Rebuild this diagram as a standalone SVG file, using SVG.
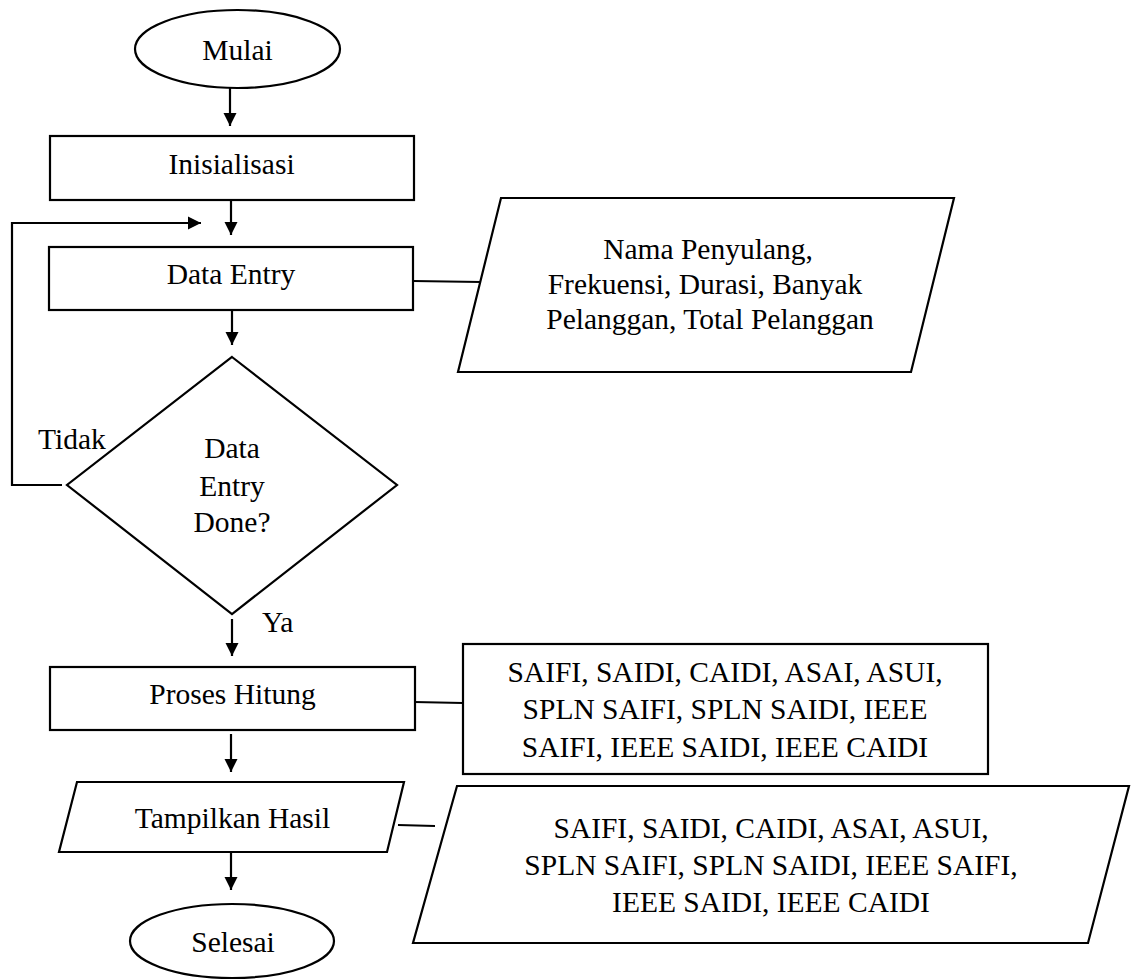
<svg xmlns="http://www.w3.org/2000/svg" width="1131" height="980" viewBox="0 0 1131 980">
<style>
.s{fill:#fff;stroke:#000;stroke-width:2.2}
.t{font-family:"Liberation Serif","Times New Roman",serif;font-size:29.5px;fill:#000;text-anchor:middle}
.tl{font-family:"Liberation Serif","Times New Roman",serif;font-size:29.5px;fill:#000}
.c{fill:none;stroke:#000;stroke-width:2.2}
</style>
<defs>
<marker id="ah" markerUnits="userSpaceOnUse" markerWidth="14" markerHeight="14" viewBox="0 0 14 14" refX="13" refY="7" orient="auto">
<path d="M0,0.5 L13,7 L0,13.5 z" fill="#000"/>
</marker>
</defs>
<rect width="1131" height="980" fill="#fff"/>
<g id="connectors">
<line class="c" x1="230" y1="88" x2="230" y2="126" marker-end="url(#ah)"/>
<line class="c" x1="231" y1="200" x2="231" y2="235" marker-end="url(#ah)"/>
<polyline class="c" points="62,485 12,485 12,223 201,223" marker-end="url(#ah)"/>
<line class="c" x1="232" y1="310" x2="232" y2="345" marker-end="url(#ah)"/>
<line class="c" x1="232" y1="619" x2="232" y2="656" marker-end="url(#ah)"/>
<line class="c" x1="231" y1="734" x2="231" y2="772" marker-end="url(#ah)"/>
<line class="c" x1="231" y1="853" x2="231" y2="890" marker-end="url(#ah)"/>
<line class="c" x1="413" y1="281" x2="481" y2="282"/>
<line class="c" x1="414" y1="702" x2="463" y2="703"/>
<line class="c" x1="398" y1="825" x2="435" y2="826"/>
<text class="tl" x="38" y="449">Tidak</text>
<text class="tl" x="262" y="632">Ya</text>
</g>
<g id="mulai">
<ellipse class="s" cx="237.5" cy="49" rx="102.5" ry="39"/>
<text class="t" x="237.5" y="60">Mulai</text>
</g>
<g id="inisialisasi">
<rect class="s" x="50" y="136" width="364" height="64"/>
<text class="t" x="231.5" y="174">Inisialisasi</text>
</g>
<g id="data-entry">
<rect class="s" x="49" y="247" width="364" height="63"/>
<text class="t" x="231" y="284">Data Entry</text>
</g>
<g id="input-data">
<polygon class="s" points="501,198 954,198 911,372 458,372"/>
<text class="t" x="708" y="259">Nama Penyulang,</text>
<text class="t" x="705" y="294">Frekuensi, Durasi, Banyak</text>
<text class="t" x="710" y="329">Pelanggan, Total Pelanggan</text>
</g>
<g id="decision">
<polygon class="s" points="232,357 397,485 232,614 67,485"/>
<text class="t" x="232" y="458">Data</text>
<text class="t" x="232" y="496">Entry</text>
<text class="t" x="232" y="532">Done?</text>
</g>
<g id="proses-hitung">
<rect class="s" x="50" y="667" width="365" height="63"/>
<text class="t" x="232.5" y="704">Proses Hitung</text>
</g>
<g id="hasil-hitung">
<rect class="s" x="463" y="644" width="525" height="130"/>
<text class="t" x="725" y="682">SAIFI, SAIDI, CAIDI, ASAI, ASUI,</text>
<text class="t" x="725" y="719">SPLN SAIFI, SPLN SAIDI, IEEE</text>
<text class="t" x="725" y="757">SAIFI, IEEE SAIDI, IEEE CAIDI</text>
</g>
<g id="tampilkan-hasil">
<polygon class="s" points="77,782 404,782 387,852 59,852"/>
<text class="t" x="232.5" y="828">Tampilkan Hasil</text>
</g>
<g id="output-hasil">
<polygon class="s" points="457,786 1129,786 1088,943 413,943"/>
<text class="t" x="771" y="838">SAIFI, SAIDI, CAIDI, ASAI, ASUI,</text>
<text class="t" x="771" y="875">SPLN SAIFI, SPLN SAIDI, IEEE SAIFI,</text>
<text class="t" x="771" y="912">IEEE SAIDI, IEEE CAIDI</text>
</g>
<g id="selesai">
<ellipse class="s" cx="232" cy="941" rx="102" ry="37"/>
<text class="t" x="233" y="952">Selesai</text>
</g>
</svg>
